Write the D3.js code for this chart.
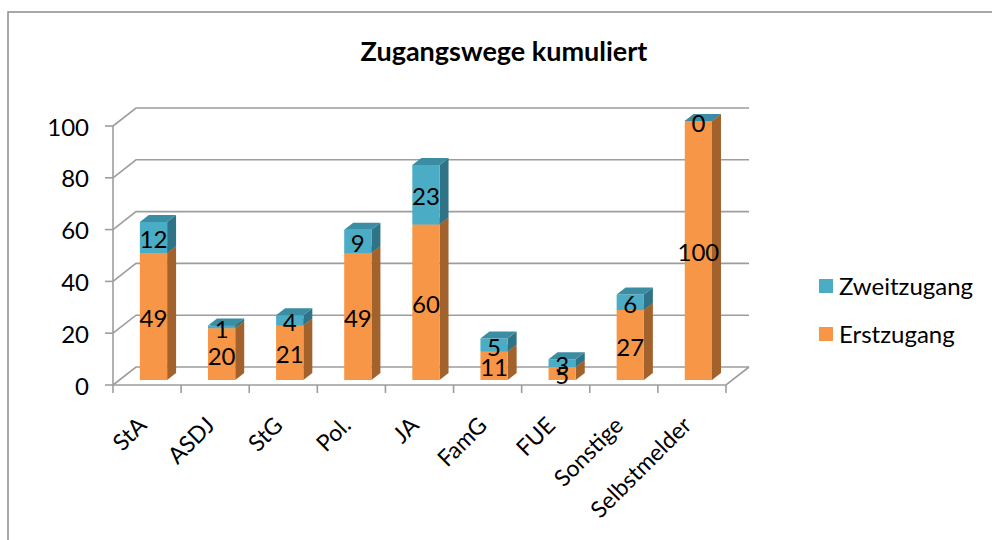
<!DOCTYPE html>
<html>
<head>
<meta charset="utf-8">
<script src="https://cdn.jsdelivr.net/npm/d3@7"></script>
<style>
  body { margin: 0; background: #fff; }
  svg { display: block; font-family: Lato, "Open Sans", sans-serif; }
</style>
</head>
<body>
<svg width="992" height="540"></svg>
<script>
// ### Data ###
var categories = ['StA', 'ASDJ', 'StG', 'Pol.', 'JA', 'FamG', 'FUE', 'Sonstige', 'Selbstmelder'];
var erstzugang = [49, 20, 21, 49, 60, 11, 5, 27, 100];
var zweitzugang = [12, 1, 4, 9, 23, 5, 3, 6, 0];
var yTicks = [0, 20, 40, 60, 80, 100];
var seriesNames = ['Erstzugang', 'Zweitzugang'];

// colors: front, side, top
var colors = {
  Erstzugang: ['#F79646', '#A3612B', '#C97838'],
  Zweitzugang: ['#4BACC6', '#2F7387', '#3A8DA3']
};

var svg = d3.select('svg');

// outer frame
svg.append('rect')
  .attr('x', 8).attr('y', 12)
  .attr('width', 1000).attr('height', 560)
  .attr('fill', 'none').attr('stroke', '#8c8c8c').attr('stroke-width', 1.5);

// ### Scales ###
var xScale = d3.scaleBand()
  .domain(categories)
  .range([113, 726]);
var yScale = d3.scaleLinear()
  .domain([0, 100])
  .range([385, 126]);

// depth offset of the 3d box
var DX = 23, DY = 18;
var proj = function(x, v, d) { return [x + d * DX, yScale(v) - d * DY]; };

var grid = svg.append('g').attr('stroke', '#9d9d9d').attr('stroke-width', 1.6).attr('fill', 'none');
var x0 = xScale.range()[0], x1 = xScale.range()[1];

// back wall + side wall gridlines
yTicks.forEach(function(t) {
  var a = proj(x0, t, 0), b = proj(x0, t, 1), c = proj(x1, t, 1);
  grid.append('polyline').attr('points', [a, b, c].map(p => p.join(',')).join(' '));
  // y tick
  grid.append('line').attr('x1', x0 - 8).attr('x2', x0).attr('y1', a[1]).attr('y2', a[1]);
});
// floor front edge + right diagonal
var f0 = proj(x0, 0, 0), f1 = proj(x1, 0, 0), f2 = proj(x1, 0, 1);
grid.append('polyline').attr('points', [f0, f1, f2].map(p => p.join(',')).join(' '));
// y axis
grid.append('line').attr('x1', x0).attr('x2', x0).attr('y1', yScale(0)).attr('y2', yScale(100));
// x ticks
d3.range(categories.length + 1).forEach(function(i) {
  var x = x0 + i * xScale.bandwidth();
  grid.append('line').attr('x1', x).attr('x2', x).attr('y1', yScale(0)).attr('y2', yScale(0) + 8);
});

// y tick labels
svg.append('g').selectAll('text')
  .data(yTicks).enter().append('text')
  .attr('x', 89).attr('y', d => yScale(d) + 1)
  .attr('dy', '0.36em')
  .attr('text-anchor', 'end')
  .attr('font-size', 24)
  .attr('fill', '#000')
  .text(d => d);

// ### Bars ###
var D0 = 0.28, D1 = 0.67;
var barW = xScale.bandwidth() * 0.4;
var bars = svg.append('g');
var labels = svg.append('g').attr('font-size', 24).attr('text-anchor', 'middle').attr('fill', '#000');

categories.forEach(function(cat, i) {
  var xl = xScale(cat) + xScale.bandwidth() / 2 - barW / 2;
  var xr = xl + barW;
  var base = 0;
  [erstzugang[i], zweitzugang[i]].forEach(function(val, s) {
    var c = colors[seriesNames[s]];
    var lo = base, hi = base + val;
    var p = (x, v, d) => proj(x, v, d).join(',');
    // side
    bars.append('polygon')
      .attr('points', [p(xr, lo, D0), p(xr, lo, D1), p(xr, hi, D1), p(xr, hi, D0)].join(' '))
      .attr('fill', c[1]);
    // front
    bars.append('polygon')
      .attr('points', [p(xl, lo, D0), p(xr, lo, D0), p(xr, hi, D0), p(xl, hi, D0)].join(' '))
      .attr('fill', c[0]);
    // top
    bars.append('polygon')
      .attr('points', [p(xl, hi, D0), p(xr, hi, D0), p(xr, hi, D1), p(xl, hi, D1)].join(' '))
      .attr('fill', c[2]);
    var mid = proj((xl + xr) / 2, (lo + hi) / 2, D0);
    labels.append('text')
      .attr('x', mid[0]).attr('y', mid[1] + 2)
      .attr('dy', '0.36em')
      .text(val);
    base = hi;
  });
});

// ### Category labels ###
svg.append('g').selectAll('text')
  .data(categories).enter().append('text')
  .attr('transform', d => 'translate(' + (xScale(d) + xScale.bandwidth() / 2 - 5) + ',421) rotate(-45)')
  .attr('dy', '0.36em')
  .attr('text-anchor', 'end')
  .attr('font-size', 23)
  .text(d => d);

// ### Title ###
svg.append('text')
  .attr('x', 504).attr('y', 61)
  .attr('text-anchor', 'middle')
  .attr('font-size', 27)
  .attr('font-weight', 'bold')
  .text('Zugangswege kumuliert');

// ### Legend ###
var legend = svg.append('g');
['Zweitzugang', 'Erstzugang'].forEach(function(name, i) {
  var y = 279 + i * 48;
  legend.append('rect').attr('x', 819).attr('y', y).attr('width', 14).attr('height', 14)
    .attr('fill', colors[name][0]);
  legend.append('text').attr('x', 839).attr('y', y + 7).attr('dy', '0.36em')
    .attr('font-size', 24).text(name);
});
</script>
</body>
</html>
